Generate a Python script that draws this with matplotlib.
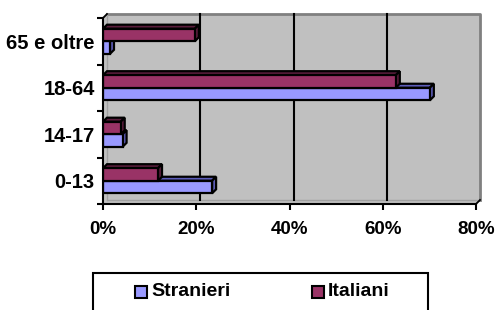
import matplotlib
matplotlib.use("Agg")
import matplotlib.pyplot as plt
from matplotlib.patches import Polygon, Rectangle
import numpy as np

categories = ["0-13", "14-17", "18-64", "65 e oltre"]
stranieri = [23.4, 4.2, 70.1, 1.5]
italiani = [11.8, 3.8, 62.8, 19.7]
xticks = [0, 20, 40, 60, 80]
xticklabels = ["0%", "20%", "40%", "60%", "80%"]
series_names = ["Stranieri", "Italiani"]

c_str = "#9999FF"
c_str_side = "#5c5cb8"
c_ita = "#993366"
c_ita_side = "#5a1d3c"
wall = "#C0C0C0"
FSY = 14.5
FSX = 13.5
FSL = 14

plt.rcParams['font.family'] = ['Liberation Sans', 'DejaVu Sans']

W, H = 495, 310
fig = plt.figure(figsize=(W / 100, H / 100), dpi=100)
x0px, x1px, ytop, ybot = 103, 476, 18, 204
ax = fig.add_axes([x0px / W, 1 - ybot / H, (x1px - x0px) / W, (ybot - ytop) / H])
ax.set_xlim(0, 80)
ax.set_ylim(-0.5, 3.5)
ax.set_facecolor("none")

pxx = (x1px - x0px) / 80
pxy = (ybot - ytop) / 4
dx = 4 / pxx
dy = 4 / pxy

# back wall + floor/side fill
bg = Polygon([(0, -0.5), (80, -0.5), (80 + dx, -0.5 + dy), (80 + dx, 3.5 + dy),
              (dx, 3.5 + dy), (0, 3.5)], closed=True, facecolor=wall,
             edgecolor="none", clip_on=False, zorder=0)
ax.add_patch(bg)
ax.plot([dx, 80 + dx, 80 + dx], [3.5 + dy, 3.5 + dy, -0.5 + dy], color="#808080",
        lw=2, clip_on=False, zorder=0.5)
ax.plot([dx, 80 + dx], [-0.5 + dy, -0.5 + dy], color="#a0a0a0", lw=1,
        clip_on=False, zorder=0.5)
ax.plot([dx, dx], [-0.5 + dy, 3.5 + dy], color="#a0a0a0", lw=1,
        clip_on=False, zorder=0.5)
for g in xticks[1:-1]:
    ax.plot([g + dx, g + dx], [-0.5 + dy, 3.5 + dy], color="black", lw=1.5,
            clip_on=False, zorder=0.8)

y = np.arange(len(categories))
h = 0.27
LW = 1.6


def bar3d(vals, offs, color, side, z):
    ax.barh(y + offs, vals, height=h, color=color, edgecolor="black", lw=LW, zorder=z + 0.5)
    for yi, v in zip(y, vals):
        yb, yt = yi + offs - h / 2, yi + offs + h / 2
        top = Polygon([(0, yt), (v, yt), (v + dx, yt + dy), (dx, yt + dy)], closed=True,
                      facecolor=side, edgecolor="black", lw=LW, zorder=z, clip_on=False)
        rs = Polygon([(v, yb), (v + dx, yb + dy), (v + dx, yt + dy), (v, yt)], closed=True,
                     facecolor=side, edgecolor="black", lw=LW, zorder=z, clip_on=False)
        ax.add_patch(top)
        ax.add_patch(rs)


# Stranieri first so Italiani (above) covers its top face
bar3d(stranieri, -h / 2, c_str, c_str_side, 2)
bar3d(italiani, h / 2, c_ita, c_ita_side, 3)

for s in ["top", "right"]:
    ax.spines[s].set_visible(False)
for s in ["left", "bottom"]:
    ax.spines[s].set_linewidth(1.5)
    ax.spines[s].set_zorder(5)

# corner diagonals
ax.plot([0, dx], [3.5, 3.5 + dy], color="black", lw=1.3, clip_on=False, zorder=5)
ax.plot([80, 80 + dx], [-0.5, -0.5 + dy], color="black", lw=1.3, clip_on=False, zorder=5)

ax.set_xticks(xticks)
ax.set_xticklabels(xticklabels, fontsize=FSX, fontweight="bold")
ax.tick_params(axis="x", length=4, width=1.5, pad=8)
ax.set_yticks(y)
ax.set_yticklabels(categories, fontsize=FSY, fontweight="bold")
ax.tick_params(axis="y", which="major", length=0, pad=6)
ax.set_yticks(np.arange(-0.5, 4, 1), minor=True)
ax.tick_params(axis="y", which="minor", length=4, width=1.5)

# legend box (extends past bottom edge)
fig.patches.append(Rectangle((93 / W, -0.05), (428 - 93) / W, 0.05 + (310 - 273) / H,
                             transform=fig.transFigure, facecolor="white",
                             edgecolor="black", lw=1.5))
for mx, col, name in [(135, c_str, series_names[0]), (312, c_ita, series_names[1])]:
    fig.patches.append(Rectangle((mx / W, 1 - 298 / H), 12 / W, 12 / H,
                                 transform=fig.transFigure, facecolor=col,
                                 edgecolor="black", lw=1.5))
    fig.text((mx + 16) / W, 1 - 292 / H, name, fontsize=FSL, fontweight="bold",
             va="center", ha="left")

fig.savefig("out.png", dpi=100)
